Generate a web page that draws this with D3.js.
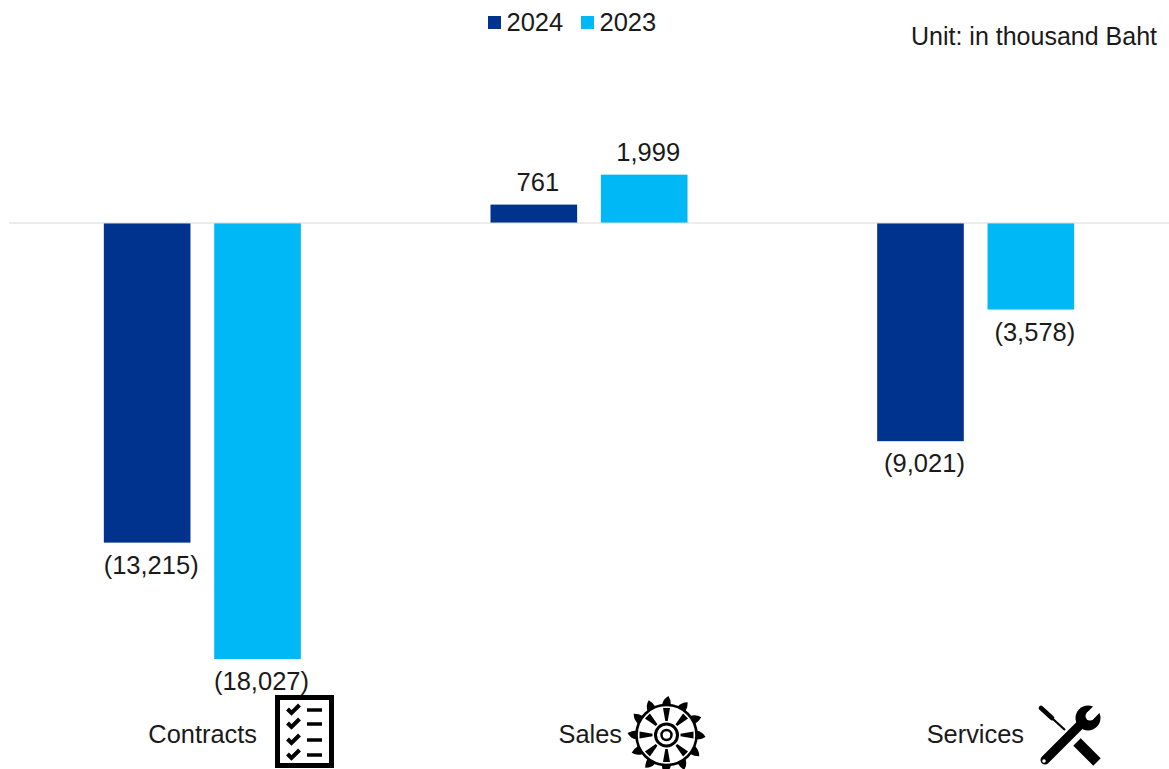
<!DOCTYPE html>
<html>
<head>
<meta charset="utf-8">
<script src="https://cdn.jsdelivr.net/npm/d3@7"></script>
<style>
html,body{margin:0;padding:0;background:#fff}
svg{display:block}
text{font-family:"Liberation Sans",Arial,sans-serif;fill:#1a1a1a}
</style>
</head>
<body>
<svg id="chart" width="1169" height="769"></svg>
<script>
// Gross profit by business line, in thousand Baht
const categories = ["Contracts", "Sales", "Services"];
const seriesNames = ["2024", "2023"];
const values2024 = [-13215, 761, -9021];
const values2023 = [-18027, 1999, -3578];
const seriesColors = ["#00338d", "#00b8f5"];
const unitLabel = "Unit: in thousand Baht";

const svg = d3.select("#chart");
const fontSize = 25.5;

const x0 = d3.scaleBand().domain(categories).range([9, 1169]);
const x1 = d3.scaleBand().domain(seriesNames)
  .range([x0.bandwidth() / 2 - 98.5, x0.bandwidth() / 2 + 98.5])
  .paddingInner(0.215);
const y = d3.scaleLinear().domain([0, -18027]).range([223, 659]);

const fmt = v => {
  const s = d3.format(",")(Math.abs(v));
  return v < 0 ? `(${s})` : s;
};

const series = [values2024, values2023];

// Bars and their value labels
seriesNames.forEach((name, si) => {
  const g = svg.append("g").attr("class", "series-" + name);
  const rows = categories.map((c, i) => ({ c, v: series[si][i] }));
  g.selectAll("rect").data(rows).join("rect")
    .attr("x", d => x0(d.c) + x1(name))
    .attr("width", x1.bandwidth())
    .attr("y", d => Math.min(y(d.v), y(0)))
    .attr("height", d => Math.abs(y(d.v) - y(0)))
    .attr("fill", seriesColors[si]);
  g.selectAll("text").data(rows).join("text")
    .attr("x", d => x0(d.c) + x1(name) + x1.bandwidth() / 2 + 4)
    .attr("y", d => d.v < 0 ? y(d.v) + 31 : y(d.v) - 14)
    .attr("text-anchor", "middle")
    .attr("font-size", fontSize)
    .text(d => fmt(d.v));
});

// Zero baseline
svg.append("line")
  .attr("x1", 9).attr("x2", 1169)
  .attr("y1", y(0)).attr("y2", y(0))
  .attr("stroke", "#d9d9d9").attr("stroke-width", 1);

// Legend
const legendX = [488, 581];
seriesNames.forEach((name, i) => {
  svg.append("rect").attr("x", legendX[i]).attr("y", 16)
    .attr("width", 13).attr("height", 13).attr("fill", seriesColors[i]);
  svg.append("text").attr("x", legendX[i] + 18.5).attr("y", 31)
    .attr("font-size", fontSize).text(name);
});

// Unit note
svg.append("text").attr("x", 1157).attr("y", 45)
  .attr("text-anchor", "end").attr("font-size", 25).text(unitLabel);

// Category labels
const catLabelX = [257, 622, 1024];
categories.forEach((c, i) => {
  svg.append("text").attr("x", catLabelX[i]).attr("y", 743)
    .attr("text-anchor", "end").attr("font-size", 25.4).text(c);
});

// Checklist icon
const list = svg.append("g").attr("transform", "translate(275,695)");
list.append("rect").attr("x", 2.5).attr("y", 2.5).attr("width", 54).attr("height", 68)
  .attr("fill", "#fff").attr("stroke", "#000").attr("stroke-width", 5);
[14, 28, 44, 59].forEach(cy => {
  list.append("path")
    .attr("d", `M12.5 ${cy}l4 4l8 -8`)
    .attr("fill", "none").attr("stroke", "#000").attr("stroke-width", 4);
  list.append("line").attr("x1", 32).attr("x2", 47).attr("y1", cy + 1).attr("y2", cy + 1)
    .attr("stroke", "#000").attr("stroke-width", 3.5);
});

// Wheel icon: rim, hub, eight tapered spokes and twelve pointed paddles
const wheel = svg.append("g").attr("transform", "translate(666.5,735)");
wheel.append("circle").attr("r", 30).attr("fill", "none").attr("stroke", "#000").attr("stroke-width", 2.6);
wheel.append("circle").attr("r", 11).attr("fill", "none").attr("stroke", "#000").attr("stroke-width", 3);
wheel.append("circle").attr("r", 5).attr("fill", "none").attr("stroke", "#000").attr("stroke-width", 2.5);
d3.range(8).forEach(k => {
  wheel.append("path")
    .attr("transform", `rotate(${k * 45})`)
    .attr("d", "M-1.2 -14L-3.5 -27L3.5 -27L1.2 -14Z")
    .attr("fill", "#000");
});
d3.range(12).forEach(k => {
  wheel.append("path")
    .attr("transform", `rotate(${k * 30})`)
    .attr("d", "M-4.5 -30Q-3.5 -36 2 -39Q4.5 -35 4.5 -30Z")
    .attr("fill", "#000");
});

// Crossed screwdriver and wrench icon
const tools = svg.append("g").attr("transform", "translate(1030,695)");
tools.append("path")
  .attr("d", "M12 14L35 35").attr("stroke", "#000").attr("stroke-width", 2.2).attr("fill", "none");
tools.append("path")
  .attr("d", "M11 13L22 23").attr("stroke", "#000").attr("stroke-width", 4.6)
  .attr("stroke-linecap", "round").attr("fill", "none");
tools.append("path")
  .attr("d", "M47 47L67 67").attr("stroke", "#000").attr("stroke-width", 10.5).attr("fill", "none");
tools.append("path")
  .attr("d", "M15 65L52 28").attr("stroke", "#000").attr("stroke-width", 9)
  .attr("stroke-linecap", "round").attr("fill", "none");
tools.append("circle").attr("cx", 58).attr("cy", 23).attr("r", 12.5).attr("fill", "#000");
tools.append("circle").attr("cx", 60).attr("cy", 21).attr("r", 4.5).attr("fill", "#fff");
tools.append("path")
  .attr("d", "M60 21L74 7").attr("stroke", "#fff").attr("stroke-width", 9).attr("fill", "none");
tools.append("circle").attr("cx", 14).attr("cy", 66).attr("r", 1.8).attr("fill", "#fff");
</script>
</body>
</html>
